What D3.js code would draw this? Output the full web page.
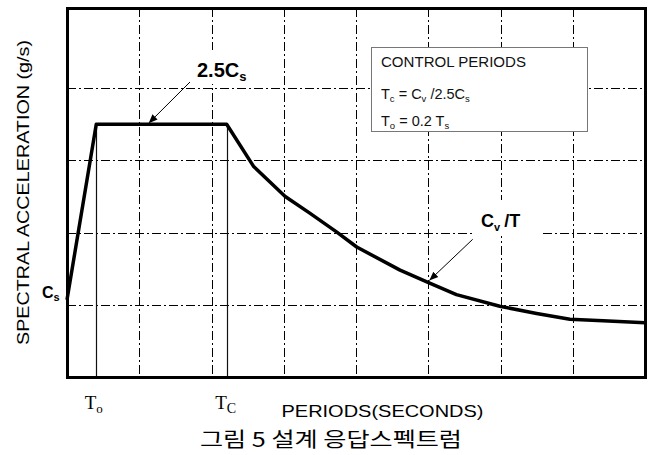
<!DOCTYPE html>
<html><head><meta charset="utf-8">
<script src="https://cdn.jsdelivr.net/npm/d3@7"></script>
<style>body{margin:0;background:#fff}svg{display:block}</style>
</head><body>
<svg id="chart" width="653" height="455"></svg>
<script>
// Data (x: period units across 8 grid divisions, y: acceleration units)
const periods = [0, 0.405, 2.21, 2.58, 3.02, 3.36, 3.73, 4.01, 4.61, 5.02, 5.39, 5.99, 6.50, 6.96, 7.42, 8.0];
const accel   = [1.07, 3.50, 3.50, 2.92, 2.50, 2.27, 2.01, 1.80, 1.48, 1.30, 1.14, 0.98, 0.88, 0.80, 0.78, 0.75];
const xGridValues = [1, 2, 3, 4, 5, 6, 7];
const yGridValues = [1, 2, 3, 4];
const controlPeriods = [0.405, 2.21];            // T0, Tc
const plateauValue = 3.50;                        // 2.5Cs
const xTickLabels = [{base: "T", sub: "o", at: 0.405}, {base: "T", sub: "C", at: 2.21}];
const xTitle = "PERIODS(SECONDS)";
const yTitle = "SPECTRAL ACCELERATION (g/s)";
const caption = "그림 5 설계 응답스펙트럼";

(function () {
const svg = d3.select("#chart");
const pL = 67, pR = 645, pT = 8, pB = 377;
const x = d3.scaleLinear().domain([0, 8]).range([pL, pR]);
const y = d3.scaleLinear().domain([0, 5.11]).range([pB, pT]);
const sans = "'Liberation Sans', Arial, Helvetica, sans-serif";

svg.append("rect").attr("width", 653).attr("height", 455).attr("fill", "#fff");

// grid
const grid = svg.append("g").attr("stroke", "#000").attr("stroke-width", 1).attr("stroke-dasharray", "9,3,2,3");
grid.selectAll("line.v").data(xGridValues).join("line").attr("class", "v")
  .attr("x1", d => Math.round(x(d)) + 0.5).attr("x2", d => Math.round(x(d)) + 0.5)
  .attr("y1", pT).attr("y2", pB);
grid.selectAll("line.h").data(yGridValues).join("line").attr("class", "h")
  .attr("y1", d => Math.round(y(d)) + 0.5).attr("y2", d => Math.round(y(d)) + 0.5)
  .attr("x1", pL).attr("x2", pR);

// control period verticals
svg.selectAll("line.cp").data(controlPeriods).join("line").attr("class", "cp")
  .attr("x1", d => Math.round(x(d)) + 0.5).attr("x2", d => Math.round(x(d)) + 0.5)
  .attr("y1", y(0)).attr("y2", y(plateauValue))
  .attr("stroke", "#111").attr("stroke-width", 1.2);

// white backgrounds for labels inside plot
svg.append("rect").attr("x", 192).attr("y", 50).attr("width", 64).attr("height", 34).attr("fill", "#fff");
svg.append("rect").attr("x", 472).attr("y", 200).attr("width", 71).attr("height", 36).attr("fill", "#fff");

// legend box
svg.append("rect").attr("x", 371.5).attr("y", 47.5).attr("width", 216).attr("height", 84)
  .attr("fill", "#fff").attr("stroke", "#777").attr("stroke-width", 1);
const lg = svg.append("g").attr("font-family", sans).attr("fill", "#111");
lg.append("text").attr("x", 381).attr("y", 67.3).attr("font-size", 14)
  .attr("textLength", 145).attr("lengthAdjust", "spacingAndGlyphs").text("CONTROL PERIODS");
function subText(g, xx, yy, parts, size, subSize, weight) {
  const t = g.append("text").attr("x", xx).attr("y", yy).attr("font-size", size);
  if (weight) t.attr("font-weight", weight);
  parts.forEach(p => {
    const s = t.append("tspan").text(p.t);
    if (p.sub) s.attr("font-size", subSize);
    if (p.dy) s.attr("dy", p.dy);
    if (p.dx) s.attr("dx", p.dx);
  });
  return t;
}
subText(lg, 381, 99, [{t:"T"},{t:"c",sub:true,dy:3},{t:" = C",dy:-3},{t:"v",sub:true,dy:3},{t:" /2.5C",dy:-3},{t:"s",sub:true,dy:3}], 14.5, 9.5);
subText(lg, 381, 126, [{t:"T"},{t:"o",sub:true,dy:3},{t:" = 0.2 T",dy:-3},{t:"s",sub:true,dy:3}], 14.5, 9.5);

// arrows
const defs = svg.append("defs");
defs.append("marker").attr("id", "ah").attr("viewBox", "0 0 10 10").attr("refX", 10).attr("refY", 5)
  .attr("markerWidth", 9).attr("markerHeight", 9).attr("markerUnits", "userSpaceOnUse").attr("orient", "auto")
  .append("path").attr("d", "M0,1 L10,5 L0,9 Z").attr("fill", "#000");
svg.append("line").attr("x1", 190).attr("y1", 82).attr("x2", x(1.13)).attr("y2", y(plateauValue) - 1)
  .attr("stroke", "#000").attr("stroke-width", 1).attr("marker-end", "url(#ah)");
svg.append("line").attr("x1", 472.7).attr("y1", 239.3).attr("x2", 429.3).attr("y2", 280.5)
  .attr("stroke", "#000").attr("stroke-width", 1).attr("marker-end", "url(#ah)");

// spectrum curve
const pts = periods.map((p, i) => [p, accel[i]]);
svg.append("path").datum(pts)
  .attr("d", d3.line().x(d => x(d[0])).y(d => y(d[1])).curve(d3.curveLinear))
  .attr("fill", "none").attr("stroke", "#000").attr("stroke-width", 3.5).attr("stroke-linejoin", "round");

// frame
svg.append("rect").attr("x", pL + 0.5).attr("y", pT + 0.5).attr("width", pR - pL).attr("height", pB - pT)
  .attr("fill", "none").attr("stroke", "#000").attr("stroke-width", 3);

// in-plot labels
const lb = svg.append("g").attr("font-family", sans).attr("fill", "#000").attr("font-weight", "bold");
subText(lb, 197, 77, [{t:"2.5C"},{t:"s",sub:true,dy:4}], 20, 13);
subText(lb, 481, 227, [{t:"C"},{t:"v",sub:true,dy:4},{t:"/T",dy:-4,dx:4}], 18, 11);
subText(lb, 42, 298, [{t:"C"},{t:"s",sub:true,dy:3}], 16, 11);

// x tick labels (serif)
const tl = svg.append("g").attr("font-family", "'Liberation Serif', 'Times New Roman', serif").attr("fill", "#000");
xTickLabels.forEach(d => {
  const t = tl.append("text").attr("x", x(d.at) - 11.5).attr("y", 408.5).attr("font-size", 19);
  t.append("tspan").text(d.base);
  t.append("tspan").text(d.sub).attr("font-size", d.sub === "C" ? 14 : 13).attr("dy", 4.5);
});

// axis titles
svg.append("text").attr("x", 281.5).attr("y", 416.5).attr("font-family", sans).attr("font-size", 17)
  .attr("textLength", 202).attr("lengthAdjust", "spacingAndGlyphs").text(xTitle);
svg.append("text").attr("transform", "translate(28.5,192.5) rotate(-90)").attr("text-anchor", "middle")
  .attr("font-family", sans).attr("font-size", 17)
  .attr("textLength", 305).attr("lengthAdjust", "spacingAndGlyphs").text(yTitle);
svg.append("text").attr("x", 200).attr("y", 447).attr("font-family", "'Noto Sans CJK KR', sans-serif").attr("font-size", 20)
  .attr("textLength", 262).attr("lengthAdjust", "spacingAndGlyphs").text(caption);
})();
</script>
</body></html>
